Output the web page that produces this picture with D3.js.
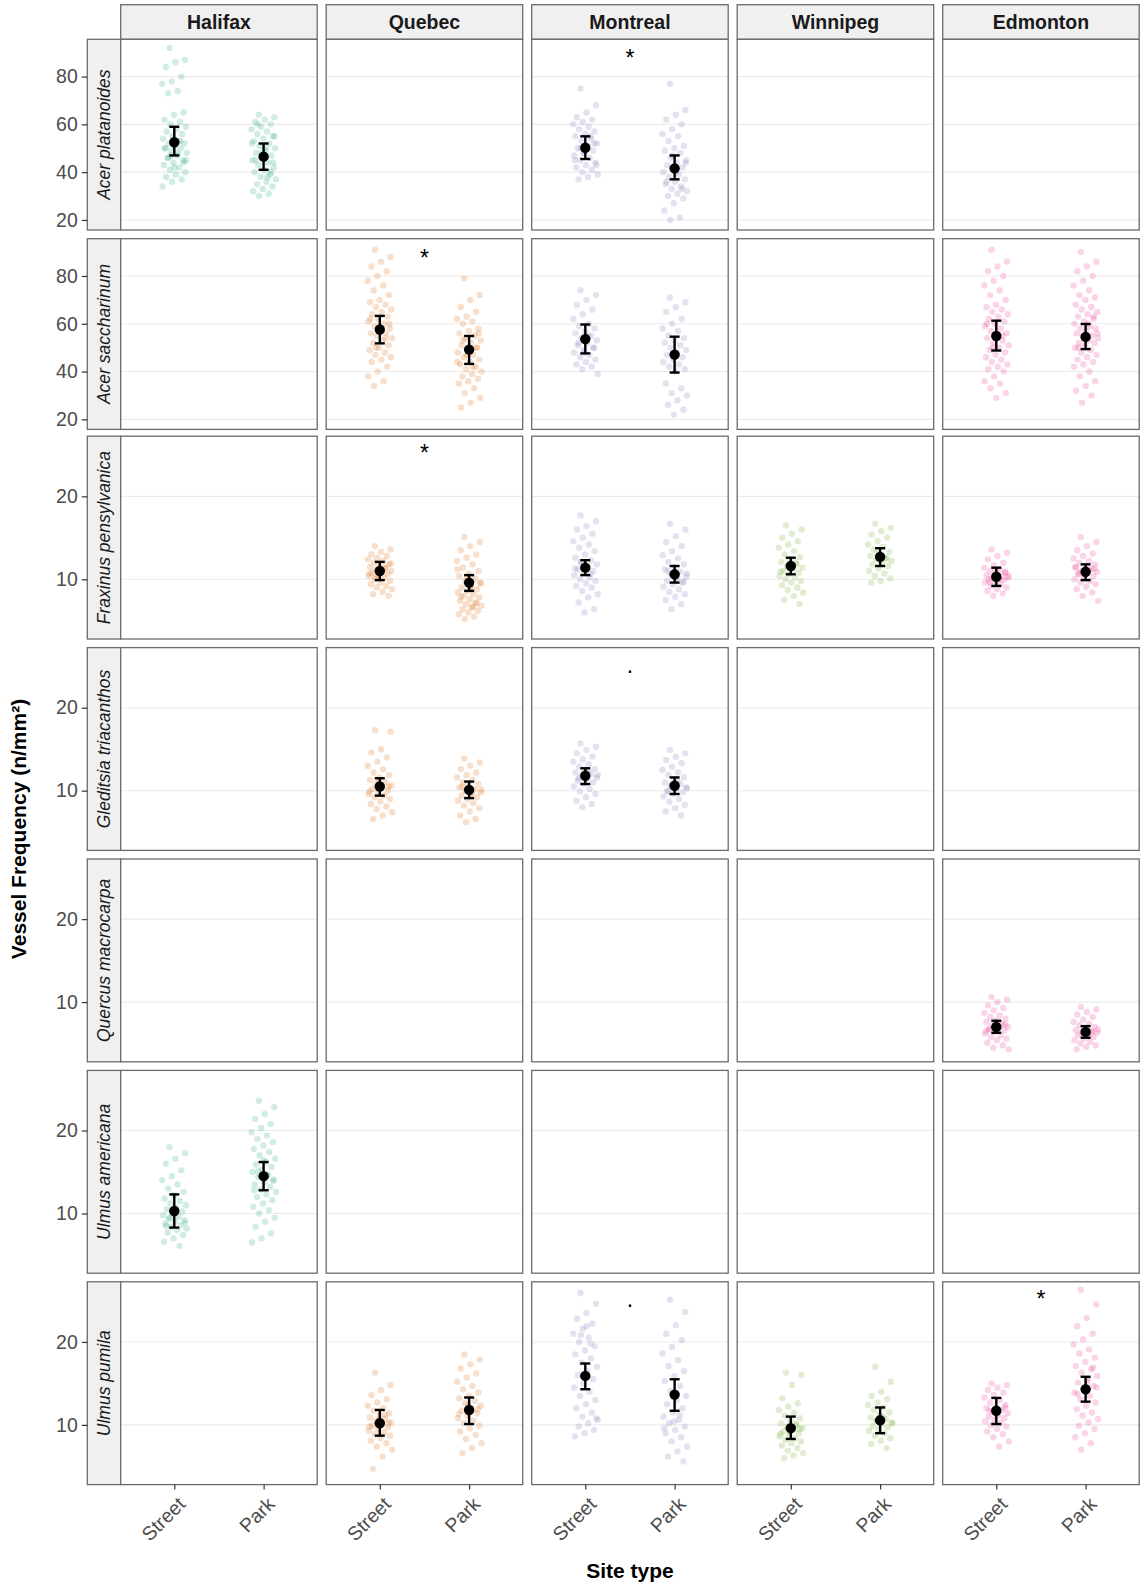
<!DOCTYPE html>
<html>
<head>
<meta charset="utf-8">
<script src="https://cdn.jsdelivr.net/npm/d3@7"></script>
<style>
  body { margin: 0; background: #fff; }
  text { font-family: "Liberation Sans", Arial, Helvetica, sans-serif; }
</style>
</head>
<body>
<svg id="chart" width="1142" height="1587"></svg>
<script>
const cities = ["Halifax", "Quebec", "Montreal", "Winnipeg", "Edmonton"];
const cityColors = ["#1B9E77", "#D95F02", "#7570B3", "#66A61E", "#E7298A"];
const siteTypes = ["Street", "Park"];
const species = ["Acer platanoides", "Acer saccharinum", "Fraxinus pensylvanica",
  "Gleditsia triacanthos", "Quercus macrocarpa", "Ulmus americana", "Ulmus pumila"];

const yTicksAcer = [20, 40, 60, 80];
const yTicksOther = [10, 20];
const yDomainAcer = [15.8, 95.6];
const yDomainOther = [2.8, 27.25];

const acerPlatanoides = [
  { city: "Halifax", site: "Street", mean: 52.5, lower: 47, upper: 59,
    values: [92, 87, 86, 84, 80, 78, 77, 74, 73, 65, 64, 62, 61, 60, 59, 58, 57, 56, 55, 54, 53, 52, 52, 51, 50, 50, 49, 48, 47, 46, 45, 44, 43, 42, 41, 40, 39, 38, 37, 36, 34, 48, 46, 44, 42, 50, 53, 47, 45] },
  { city: "Halifax", site: "Park", mean: 46.5, lower: 41, upper: 52,
    values: [64, 63, 62, 61, 60, 59, 58, 57, 56, 55, 54, 53, 52, 51, 50, 49, 48, 47, 46, 45, 44, 43, 42, 41, 40, 39, 38, 37, 36, 35, 34, 33, 32, 31, 30, 55, 50, 45, 40, 48, 52, 38, 60, 44] },
  { city: "Montreal", site: "Street", mean: 50.2, lower: 45.5, upper: 55,
    values: [75, 68, 65, 63, 62, 61, 60, 59, 58, 57, 56, 55, 54, 53, 52, 51, 50, 49, 48, 47, 46, 45, 44, 43, 42, 41, 40, 39, 38, 37, 52, 48, 45, 55, 50, 43] },
  { city: "Montreal", site: "Park", mean: 41.6, lower: 37, upper: 47,
    values: [77, 66, 64, 62, 60, 58, 56, 55, 53, 51, 50, 49, 48, 46, 45, 44, 43, 42, 41, 40, 39, 38, 37, 36, 35, 34, 33, 32, 31, 30, 29, 27, 24, 21, 20, 44, 40, 36, 33, 47] }
];

const acerSaccharinum = [
  { city: "Quebec", site: "Street", mean: 57.6, lower: 51.8, upper: 63.3,
    values: [91, 88, 86, 84, 82, 80, 78, 76, 74, 72, 70, 69, 68, 67, 66, 65, 64, 63, 62, 61, 60, 59, 58, 57, 56, 56, 55, 54, 53, 52, 51, 50, 49, 48, 47, 46, 45, 44, 42, 40, 38, 36, 34, 60, 58, 62, 54, 50] },
  { city: "Quebec", site: "Park", mean: 49.2, lower: 43.2, upper: 54.9,
    values: [79, 72, 70, 67, 65, 63, 62, 61, 60, 58, 57, 56, 55, 54, 53, 52, 51, 50, 49, 48, 47, 46, 45, 44, 43, 42, 41, 40, 39, 38, 37, 36, 35, 33, 31, 29, 27, 25, 50, 47, 44, 42, 53, 56] },
  { city: "Montreal", site: "Street", mean: 53.6, lower: 47.6, upper: 59.7,
    values: [74, 72, 70, 68, 66, 64, 62, 60, 59, 58, 57, 56, 55, 54, 53, 52, 51, 50, 49, 48, 47, 46, 45, 44, 43, 42, 41, 39, 55, 52, 50, 48] },
  { city: "Montreal", site: "Park", mean: 47.1, lower: 39.6, upper: 54.6,
    values: [71, 69, 67, 65, 62, 60, 58, 57, 55, 54, 53, 52, 51, 50, 49, 48, 47, 46, 45, 44, 43, 42, 41, 40, 35, 33, 31, 30, 28, 26, 24, 22] },
  { city: "Edmonton", site: "Street", mean: 54.9, lower: 48.8, upper: 61.3,
    values: [91, 86, 84, 82, 80, 78, 76, 74, 72, 70, 68, 67, 66, 65, 64, 63, 62, 61, 60, 59, 58, 57, 56, 55, 54, 53, 52, 51, 50, 49, 48, 47, 46, 45, 44, 43, 42, 41, 40, 38, 36, 35, 33, 31, 29, 60, 55, 50] },
  { city: "Edmonton", site: "Park", mean: 54.5, lower: 49.4, upper: 59.9,
    values: [90, 86, 84, 82, 80, 78, 76, 74, 72, 71, 70, 68, 67, 66, 65, 64, 63, 62, 61, 60, 59, 58, 58, 57, 56, 55, 55, 54, 53, 52, 52, 51, 50, 49, 48, 47, 46, 45, 44, 43, 42, 40, 38, 36, 34, 32, 30, 27, 56, 60, 50, 63] }
];

const fraxinusPensylvanica = [
  { city: "Quebec", site: "Street", mean: 11.0, lower: 9.9, upper: 12.1,
    values: [14.0, 13.6, 13.3, 13.0, 12.8, 12.6, 12.4, 12.2, 12.0, 11.8, 11.6, 11.5, 11.4, 11.2, 11.0, 10.9, 10.8, 10.6, 10.5, 10.4, 10.2, 10.0, 9.8, 9.6, 9.4, 9.2, 9.0, 8.8, 8.5, 8.2, 8.0, 11.1, 10.7, 11.3, 10.3, 11.9] },
  { city: "Quebec", site: "Park", mean: 9.6, lower: 8.6, upper: 10.5,
    values: [15.1, 14.5, 14.0, 13.5, 13.0, 12.6, 12.2, 11.8, 11.4, 11.0, 10.7, 10.4, 10.1, 9.8, 9.5, 9.2, 9.0, 8.8, 8.6, 8.4, 8.2, 8.0, 7.8, 7.6, 7.4, 7.2, 7.0, 6.8, 6.6, 6.4, 6.2, 6.0, 5.8, 5.5, 5.2, 9.6, 8.9, 7.9, 7.1, 10.3, 11.2, 6.7] },
  { city: "Montreal", site: "Street", mean: 11.4, lower: 10.5, upper: 12.3,
    values: [17.7, 17.0, 16.4, 16.0, 15.5, 15.0, 14.6, 14.2, 13.8, 13.4, 13.0, 12.6, 12.3, 12.0, 11.8, 11.5, 11.2, 11.0, 10.8, 10.5, 10.2, 10.0, 9.8, 9.5, 9.2, 9.0, 8.6, 8.2, 7.8, 7.2, 6.4, 6.0, 11.3, 10.6, 12.1] },
  { city: "Montreal", site: "Park", mean: 10.6, lower: 9.6, upper: 11.6,
    values: [16.7, 16.0, 15.2, 14.5, 14.0, 13.4, 12.9, 12.5, 12.1, 11.8, 11.5, 11.2, 10.9, 10.6, 10.3, 10.0, 9.8, 9.6, 9.4, 9.1, 8.8, 8.5, 8.2, 7.9, 7.5, 7.0, 6.4, 10.7, 10.2, 11.0, 9.7] },
  { city: "Winnipeg", site: "Street", mean: 11.6, lower: 10.6, upper: 12.6,
    values: [16.5, 16.0, 15.5, 15.0, 14.6, 14.2, 13.8, 13.4, 13.0, 12.7, 12.4, 12.1, 11.8, 11.6, 11.4, 11.2, 11.0, 10.8, 10.6, 10.4, 10.2, 10.0, 9.8, 9.6, 9.3, 9.0, 8.7, 8.4, 8.0, 7.5, 7.0, 11.5, 10.9, 12.0] },
  { city: "Winnipeg", site: "Park", mean: 12.7, lower: 11.6, upper: 13.75,
    values: [16.7, 16.2, 15.8, 15.4, 15.0, 14.6, 14.2, 13.9, 13.6, 13.3, 13.0, 12.8, 12.6, 12.4, 12.2, 12.0, 11.8, 11.6, 11.3, 11.0, 10.7, 10.4, 10.1, 9.8, 9.6, 12.5, 13.1] },
  { city: "Edmonton", site: "Street", mean: 10.3, lower: 9.2, upper: 11.4,
    values: [13.6, 13.2, 12.8, 12.4, 12.0, 11.7, 11.4, 11.2, 11.0, 10.8, 10.6, 10.5, 10.4, 10.3, 10.2, 10.1, 10.0, 9.9, 9.8, 9.6, 9.4, 9.2, 9.0, 8.8, 8.6, 8.3, 8.0, 10.4, 10.0, 9.7, 10.9, 11.1] },
  { city: "Edmonton", site: "Park", mean: 10.9, lower: 9.9, upper: 11.8,
    values: [15.1, 14.5, 14.0, 13.5, 13.1, 12.8, 12.5, 12.2, 12.0, 11.8, 11.6, 11.4, 11.2, 11.0, 10.9, 10.8, 10.6, 10.4, 10.2, 10.0, 9.8, 9.6, 9.4, 9.1, 8.8, 8.4, 8.0, 7.4, 11.1, 10.7, 11.3, 10.5, 11.5] }
];

const gleditsiaTriacanthos = [
  { city: "Quebec", site: "Street", mean: 10.5, lower: 9.4, upper: 11.5,
    values: [17.3, 17.1, 15.0, 14.6, 14.0, 13.5, 13.0, 12.6, 12.2, 11.9, 11.6, 11.3, 11.0, 10.8, 10.6, 10.4, 10.2, 10.0, 9.8, 9.6, 9.4, 9.2, 9.0, 8.7, 8.4, 8.1, 7.8, 7.4, 7.0, 6.6, 10.5, 11.1, 9.9] },
  { city: "Quebec", site: "Park", mean: 10.1, lower: 9.1, upper: 11.1,
    values: [13.9, 13.4, 13.0, 12.6, 12.2, 11.9, 11.6, 11.3, 11.0, 10.8, 10.6, 10.4, 10.2, 10.0, 9.8, 9.6, 9.4, 9.2, 9.0, 8.8, 8.5, 8.2, 7.9, 7.5, 7.0, 6.6, 6.2, 10.1, 9.7, 10.5] },
  { city: "Montreal", site: "Street", mean: 11.8, lower: 10.8, upper: 12.7,
    values: [15.7, 15.3, 14.9, 14.5, 14.1, 13.8, 13.5, 13.2, 12.9, 12.6, 12.4, 12.2, 12.0, 11.8, 11.6, 11.4, 11.2, 11.0, 10.8, 10.5, 10.2, 9.9, 9.6, 9.2, 8.8, 8.4, 8.0, 11.9, 12.3, 11.5] },
  { city: "Montreal", site: "Park", mean: 10.6, lower: 9.6, upper: 11.6,
    values: [14.9, 14.5, 14.1, 13.7, 13.3, 12.9, 12.5, 12.2, 11.9, 11.6, 11.3, 11.0, 10.8, 10.6, 10.4, 10.2, 10.0, 9.8, 9.6, 9.3, 9.0, 8.7, 8.3, 7.9, 7.5, 7.0, 10.7, 10.3, 11.1, 9.9] }
];

const quercusMacrocarpa = [
  { city: "Edmonton", site: "Street", mean: 7.0, lower: 6.3, upper: 7.75,
    values: [10.6, 10.3, 10.0, 9.6, 9.3, 9.0, 8.7, 8.4, 8.2, 8.0, 7.8, 7.6, 7.4, 7.2, 7.0, 6.9, 6.8, 6.6, 6.4, 6.2, 6.0, 5.8, 5.6, 5.4, 5.1, 4.8, 4.5, 4.3, 7.1, 6.7, 7.3, 7.5, 6.5] },
  { city: "Edmonton", site: "Park", mean: 6.4, lower: 5.7, upper: 7.1,
    values: [9.4, 9.1, 8.8, 8.5, 8.2, 7.9, 7.6, 7.4, 7.2, 7.0, 6.8, 6.6, 6.5, 6.4, 6.3, 6.2, 6.0, 5.8, 5.6, 5.4, 5.2, 5.0, 4.8, 4.6, 4.3, 6.4, 6.1, 6.7, 5.9] }
];

const ulmusAmericana = [
  { city: "Halifax", site: "Street", mean: 10.3, lower: 8.3, upper: 12.3,
    values: [18.0, 17.3, 16.6, 16.0, 15.2, 14.5, 14.0, 13.5, 13.0, 12.6, 12.2, 11.8, 11.5, 11.2, 11.0, 10.7, 10.5, 10.2, 10.0, 9.8, 9.6, 9.4, 9.2, 9.0, 8.8, 8.6, 8.4, 8.2, 8.0, 7.7, 7.4, 7.0, 6.6, 6.1, 9.5, 8.9, 10.1, 8.5] },
  { city: "Halifax", site: "Park", mean: 14.5, lower: 12.8, upper: 16.2,
    values: [23.6, 22.8, 22.0, 21.4, 20.8, 20.3, 19.8, 19.4, 19.0, 18.6, 18.2, 17.8, 17.4, 17.0, 16.6, 16.2, 15.9, 15.6, 15.3, 15.0, 14.7, 14.4, 14.1, 13.8, 13.5, 13.2, 12.9, 12.6, 12.3, 12.0, 11.6, 11.2, 10.8, 10.4, 10.0, 9.5, 9.0, 8.4, 7.6, 7.0, 6.5, 14.6, 15.1, 13.9, 16.4, 12.8] }
];

const ulmusPumila = [
  { city: "Quebec", site: "Street", mean: 10.2, lower: 8.7, upper: 11.8,
    values: [16.3, 14.8, 14.2, 13.6, 13.1, 12.7, 12.3, 12.0, 11.7, 11.4, 11.1, 10.9, 10.7, 10.5, 10.3, 10.1, 9.9, 9.7, 9.5, 9.3, 9.1, 8.9, 8.7, 8.4, 8.1, 7.8, 7.4, 7.0, 6.2, 4.7, 10.2, 10.6, 9.8, 11.2] },
  { city: "Quebec", site: "Park", mean: 11.8, lower: 10.1, upper: 13.3,
    values: [18.5, 17.9, 17.3, 16.8, 16.2, 15.7, 15.2, 14.7, 14.3, 13.9, 13.5, 13.2, 12.9, 12.6, 12.3, 12.0, 11.7, 11.4, 11.1, 10.8, 10.5, 10.2, 9.9, 9.6, 9.2, 8.8, 8.3, 7.8, 7.2, 6.6, 11.9, 12.4, 11.3] },
  { city: "Montreal", site: "Street", mean: 15.9, lower: 14.3, upper: 17.4,
    values: [25.9, 24.6, 23.5, 22.8, 22.2, 21.6, 21.0, 20.5, 20.0, 19.5, 19.0, 18.5, 18.0, 17.5, 17.0, 16.5, 16.0, 15.5, 15.0, 14.5, 14.0, 13.5, 13.0, 12.5, 12.0, 11.5, 11.0, 10.6, 10.2, 9.8, 9.4, 9.0, 8.6, 19.8, 20.8, 10.8, 21.9] },
  { city: "Montreal", site: "Park", mean: 13.65, lower: 11.7, upper: 15.5,
    values: [25.1, 23.6, 22.0, 21.0, 20.2, 19.4, 18.6, 17.8, 17.1, 16.5, 15.9, 15.3, 14.7, 14.1, 13.5, 13.0, 12.5, 12.0, 11.5, 11.0, 10.6, 10.2, 9.8, 9.4, 9.0, 8.5, 8.0, 7.4, 6.8, 6.2, 5.6, 10.4, 9.6, 11.2] },
  { city: "Winnipeg", site: "Street", mean: 9.6, lower: 8.3, upper: 11.0,
    values: [16.3, 16.0, 14.8, 13.2, 12.6, 12.2, 11.8, 11.4, 11.1, 10.8, 10.5, 10.2, 10.0, 9.8, 9.6, 9.4, 9.2, 9.0, 8.8, 8.6, 8.4, 8.2, 8.0, 7.8, 7.5, 7.2, 6.9, 6.6, 6.3, 6.0, 9.5, 9.1, 8.9, 10.1] },
  { city: "Winnipeg", site: "Park", mean: 10.55, lower: 9.0, upper: 12.1,
    values: [17.0, 15.2, 14.0, 13.5, 13.1, 12.7, 12.4, 12.1, 11.8, 11.5, 11.2, 10.9, 10.7, 10.5, 10.3, 10.1, 9.9, 9.7, 9.5, 9.3, 9.0, 8.7, 8.4, 8.1, 7.7, 7.2, 10.6, 10.2, 11.0] },
  { city: "Edmonton", site: "Street", mean: 11.7, lower: 10.1, upper: 13.25,
    values: [15.0, 14.8, 14.5, 14.2, 13.9, 13.6, 13.3, 13.0, 12.7, 12.4, 12.2, 12.0, 11.8, 11.6, 11.4, 11.2, 11.0, 10.8, 10.6, 10.4, 10.2, 10.0, 9.8, 9.5, 9.2, 8.9, 8.5, 8.0, 7.4, 11.7, 12.1, 11.3] },
  { city: "Edmonton", site: "Park", mean: 14.3, lower: 12.8, upper: 15.8,
    values: [26.3, 24.5, 22.9, 21.9, 21.0, 20.3, 19.7, 19.1, 18.6, 18.1, 17.6, 17.1, 16.7, 16.3, 15.9, 15.5, 15.1, 14.7, 14.3, 13.9, 13.5, 13.1, 12.7, 12.3, 11.9, 11.5, 11.1, 10.7, 10.3, 9.9, 9.5, 9.0, 8.5, 7.8, 7.0, 14.5, 15.3, 13.7, 16.9] }
];

const speciesRows = [acerPlatanoides, acerSaccharinum, fraxinusPensylvanica,
  gleditsiaTriacanthos, quercusMacrocarpa, ulmusAmericana, ulmusPumila];

const sigMarks = [
  { species: "Acer platanoides", city: "Montreal", label: "*", y: 87.7 },
  { species: "Acer saccharinum", city: "Quebec", label: "*", y: 87.7 },
  { species: "Fraxinus pensylvanica", city: "Quebec", label: "*", y: 25.2 },
  { species: "Gleditsia triacanthos", city: "Montreal", label: ".", y: 25.2 },
  { species: "Ulmus pumila", city: "Montreal", label: ".", y: 25.2 },
  { species: "Ulmus pumila", city: "Edmonton", label: "*", y: 25.2 }
];

// layout
const panelLeft = 120.7, colPitch = 205.5, panelW = 196.5;
const stripTop = 4.7, stripH = 34.6;
const rowStripX = 87.3, rowStripW = 33.4;
const rowHeights = [190.7, 190.7, 202.8, 202.8, 202.8, 202.8, 202.8];
const rowGaps = [0, 8.7, 6.8, 8.6, 8.6, 8.6, 8.6];
const borderCol = "#6b6b6b";
const jitterHalf = 12.5;

const svg = d3.select("#chart");

function init() {
  let top = stripTop + stripH;
  const rowTops = rowHeights.map((h, i) => { top += rowGaps[i]; const t = top; top += h; return t; });

  // column strips
  cities.forEach((c, ci) => {
    const x0 = panelLeft + ci * colPitch;
    svg.append("rect").attr("x", x0).attr("y", stripTop).attr("width", panelW).attr("height", stripH)
      .attr("fill", "#f0f0f0").attr("stroke", borderCol).attr("stroke-width", 1.3);
    svg.append("text").attr("x", x0 + panelW / 2).attr("y", stripTop + stripH / 2 + 6.8)
      .attr("text-anchor", "middle").attr("font-size", 19.5).attr("font-weight", "bold")
      .attr("fill", "#1a1a1a").text(c);
  });

  species.forEach((sp, ri) => {
    const rowTop = rowTops[ri], rowH = rowHeights[ri];
    const isAcer = ri < 2;
    const y = d3.scaleLinear().domain(isAcer ? yDomainAcer : yDomainOther).range([rowTop + rowH, rowTop]);
    const ticks = isAcer ? yTicksAcer : yTicksOther;
    const groups = speciesRows[ri];

    // row strip
    svg.append("rect").attr("x", rowStripX).attr("y", rowTop).attr("width", rowStripW).attr("height", rowH)
      .attr("fill", "#f0f0f0").attr("stroke", borderCol).attr("stroke-width", 1.3);
    svg.append("text")
      .attr("transform", `translate(${rowStripX + rowStripW / 2 + 6},${rowTop + rowH / 2}) rotate(-90)`)
      .attr("text-anchor", "middle").attr("font-size", 17.5).attr("font-style", "italic")
      .attr("fill", "#1a1a1a").text(sp);

    // y axis
    const ax = svg.append("g").attr("transform", `translate(${rowStripX},0)`)
      .call(d3.axisLeft(y).tickValues(ticks).tickSize(5.5).tickPadding(4).tickFormat(d3.format("d")));
    ax.select(".domain").remove();
    ax.selectAll(".tick line").attr("stroke", "#333").attr("stroke-width", 1.2);
    ax.selectAll(".tick text").attr("font-size", 19.5).attr("fill", "#4d4d4d")
      .attr("font-family", "Liberation Sans, Arial, sans-serif");

    cities.forEach((city, ci) => {
      const x0 = panelLeft + ci * colPitch;
      const x = d3.scalePoint().domain(siteTypes).range([x0, x0 + panelW]).padding(0.6);
      const g = svg.append("g");
      g.append("rect").attr("x", x0).attr("y", rowTop).attr("width", panelW).attr("height", rowH).attr("fill", "#fff");
      g.selectAll(".grid").data(ticks).join("line")
        .attr("x1", x0).attr("x2", x0 + panelW).attr("y1", d => y(d)).attr("y2", d => y(d))
        .attr("stroke", "#ebebeb").attr("stroke-width", 1.1);

      const cellGroups = groups.filter(d => d.city === city);
      cellGroups.forEach(grp => {
        const cx = x(grp.site);
        g.selectAll(null).data(grp.values).join("circle")
          .attr("cx", (d, i) => cx + (((i * 0.618034 + 0.31) % 1) * 2 - 1) * jitterHalf)
          .attr("cy", d => y(d)).attr("r", 3.2)
          .attr("fill", cityColors[ci]).attr("fill-opacity", 0.2);
      });
      cellGroups.forEach(grp => {
        const cx = x(grp.site);
        const cap = 5;
        g.append("line").attr("x1", cx).attr("x2", cx).attr("y1", y(grp.lower)).attr("y2", y(grp.upper))
          .attr("stroke", "#000").attr("stroke-width", 2.4);
        [grp.lower, grp.upper].forEach(v => {
          g.append("line").attr("x1", cx - cap).attr("x2", cx + cap).attr("y1", y(v)).attr("y2", y(v))
            .attr("stroke", "#000").attr("stroke-width", 2.4);
        });
        g.append("circle").attr("cx", cx).attr("cy", y(grp.mean)).attr("r", 5.2).attr("fill", "#000");
      });

      sigMarks.filter(m => m.species === sp && m.city === city).forEach(m => {
        g.append("text").attr("x", x0 + panelW / 2).attr("y", y(m.y))
          .attr("dominant-baseline", "central").attr("text-anchor", "middle")
          .attr("font-size", 23).attr("fill", "#000").text(m.label);
      });

      g.append("rect").attr("x", x0).attr("y", rowTop).attr("width", panelW).attr("height", rowH)
        .attr("fill", "none").attr("stroke", borderCol).attr("stroke-width", 1.3);

      if (ri === species.length - 1) {
        const xa = svg.append("g").attr("transform", `translate(0,${rowTop + rowH})`)
          .call(d3.axisBottom(x).tickSize(5).tickPadding(0));
        xa.select(".domain").remove();
        xa.selectAll(".tick line").attr("stroke", "#333").attr("stroke-width", 1.2);
        xa.selectAll(".tick text")
          .attr("y", 0).attr("dy", "0.71em")
          .attr("transform", "translate(2,11) rotate(-45)")
          .attr("text-anchor", "end").attr("font-size", 19.5).attr("fill", "#4d4d4d")
          .attr("font-family", "Liberation Sans, Arial, sans-serif");
      }
    });
  });

  // axis titles
  svg.append("text").attr("transform", "translate(26,829) rotate(-90)")
    .attr("text-anchor", "middle").attr("font-size", 21).attr("font-weight", "bold")
    .attr("fill", "#000").text("Vessel Frequency (n/mm²)");
  svg.append("text").attr("x", panelLeft + (cities.length * colPitch - (colPitch - panelW)) / 2).attr("y", 1578)
    .attr("text-anchor", "middle").attr("font-size", 21).attr("font-weight", "bold")
    .attr("fill", "#000").text("Site type");
}

init();
</script>
</body>
</html>
